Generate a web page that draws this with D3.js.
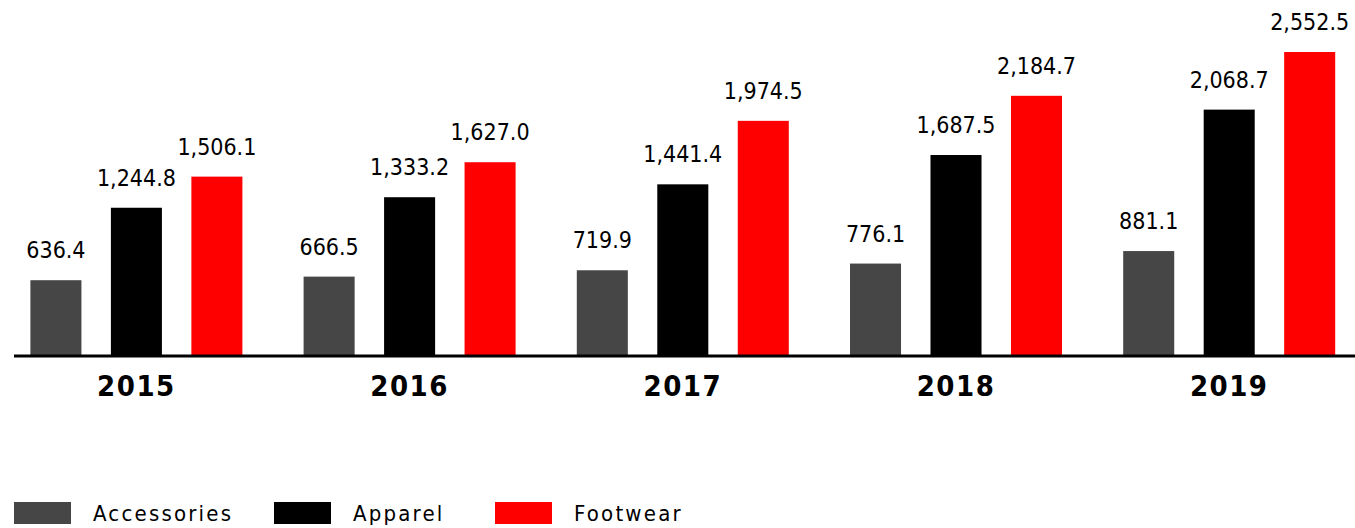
<!DOCTYPE html>
<html>
<head>
<meta charset="utf-8">
<script src="https://cdn.jsdelivr.net/npm/d3@7"></script>
<style>
  body { margin: 0; background: #fff; }
  svg { display: block; }
  .val { font-family: "DejaVu Sans Condensed", "Liberation Sans Narrow", sans-serif; font-size: 23px; fill: #000; text-anchor: middle; }
  .year { font-family: "DejaVu Sans Condensed", sans-serif; font-weight: bold; font-size: 29px; fill: #000; text-anchor: middle; letter-spacing: 1.5px; }
  .leg { font-family: "DejaVu Sans Condensed", sans-serif; font-size: 22px; fill: #000; letter-spacing: 2.2px; }
</style>
</head>
<body>
<div id="chart"></div>
<script>
// data
var years = ['2015', '2016', '2017', '2018', '2019'];
var series = ['Accessories', 'Apparel', 'Footwear'];
var accessories = [636.4, 666.5, 719.9, 776.1, 881.1];
var apparel = [1244.8, 1333.2, 1441.4, 1687.5, 2068.7];
var footwear = [1506.1, 1627.0, 1974.5, 2184.7, 2552.5];
var colors = ['#464646', '#000000', '#ff0000'];

var width = 1355, height = 528;
var base_y = 356;
var group_w = 212;

var svg = d3.select('#chart').append('svg').attr('width', width).attr('height', height);

var values = [accessories, apparel, footwear];
var fmt = d3.format(',.1f');

var x0 = d3.scaleBand().domain(years).range([-0.2, 1365.8]);
var x1 = d3.scaleBand().domain(series).range([0, group_w]).paddingInner(0.366);
var y = d3.scaleLinear().domain([0, 2552.5]).range([base_y, 52]);

var groups = svg.selectAll('g.year_group').data(years).enter().append('g')
    .attr('class', 'year_group')
    .attr('transform', d => 'translate(' + (x0(d) + (x0.bandwidth() - group_w) / 2) + ',0)');

groups.each(function (yr, i) {
    var g = d3.select(this);
    series.forEach(function (s, j) {
        var v = values[j][i];
        g.append('rect')
            .attr('x', x1(s))
            .attr('y', y(v))
            .attr('width', x1.bandwidth())
            .attr('height', base_y - y(v))
            .attr('fill', colors[j]);
        g.append('text').attr('class', 'val')
            .attr('x', x1(s) + x1.bandwidth() / 2)
            .attr('y', y(v) - 22)
            .text(fmt(v));
    });
});

// baseline
svg.append('line').attr('x1', 14).attr('x2', width).attr('y1', base_y).attr('y2', base_y)
    .attr('stroke', '#000').attr('stroke-width', 3);

// year labels
svg.selectAll('text.year').data(years).enter().append('text')
    .attr('class', 'year')
    .attr('x', d => x0(d) + x0.bandwidth() / 2)
    .attr('y', 396)
    .text(d => d);

// legend
var leg_x = [14, 274, 495];
series.forEach(function (s, j) {
    svg.append('rect').attr('x', leg_x[j]).attr('y', 502).attr('width', 57).attr('height', 22).attr('fill', colors[j]);
    svg.append('text').attr('class', 'leg').attr('x', leg_x[j] + 79).attr('y', 521).text(s);
});
</script>
</body>
</html>
